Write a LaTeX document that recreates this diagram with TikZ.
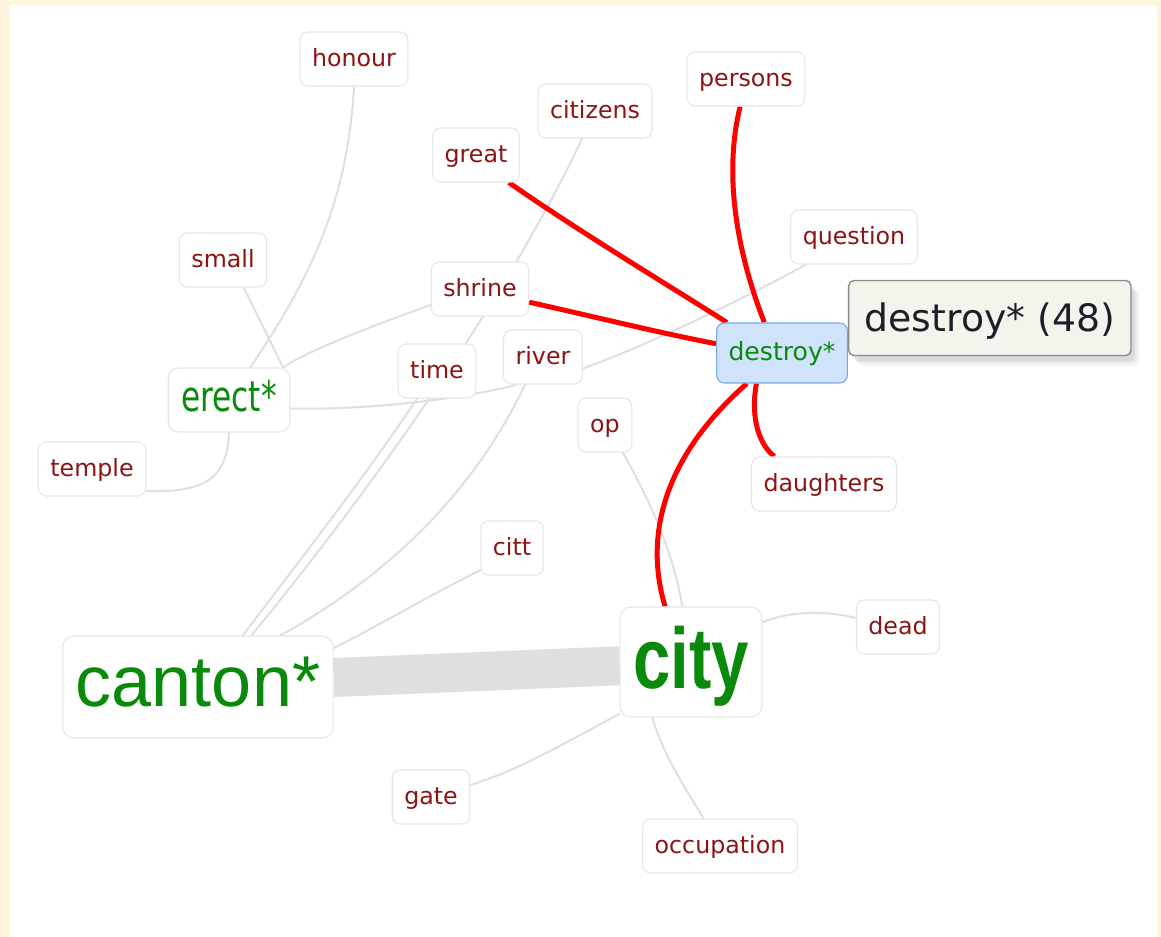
\documentclass[tikz,border=0pt]{standalone}
\usepackage{fontspec}
\setmainfont{DejaVu Sans}
\newfontfamily\hubfont{Liberation Sans}
\newfontfamily\cityfont[FakeStretch=0.78]{Liberation Sans}
\newfontfamily\verbfont[FakeStretch=0.74]{DejaVu Sans}
\usetikzlibrary{positioning, calc}
\definecolor{wordred}{HTML}{8B1414}
\definecolor{wordgreen}{HTML}{0A8A0A}
\definecolor{cream}{HTML}{FFF4DC}
\definecolor{boxline}{HTML}{E6E6E6}
\definecolor{linkgrey}{HTML}{DFDFDF}
\definecolor{hotred}{HTML}{FF0000}
\definecolor{focusfill}{HTML}{CFE3FA}
\definecolor{focusline}{HTML}{78A8EA}
\definecolor{tipfill}{HTML}{F4F3EC}
\definecolor{tipline}{HTML}{8A8A8A}
\definecolor{tiptext}{HTML}{1E1E2A}
\pgfdeclarelayer{paper}
\pgfdeclarelayer{links}
\pgfsetlayers{paper,links,main}

\begin{document}
\begin{tikzpicture}[
    x=0.02cm, y=-0.02cm,
    every node/.style={font={\fontsize{13.5}{16}\selectfont}},
    word/.style={
      draw=boxline, fill=white, rounded corners=4.5pt, line width=0.6pt,
      text=wordred, inner xsep=0.24cm, minimum height=1.08cm,
      text height=10pt, text depth=1.4pt
    },
    hub/.style={word, text=wordgreen, inner xsep=0.26cm, rounded corners=6pt},
    focus/.style={
      word, draw=focusline, fill=focusfill, text=wordgreen,
      minimum height=1.2cm, font={\fontsize{14.3}{17}\selectfont},
      text height=10.5pt, text depth=2pt
    },
    tip/.style={
      draw=tipline, fill=tipfill, rounded corners=3pt, line width=0.8pt,
      text=tiptext, inner xsep=0.32cm, minimum height=1.5cm,
      text height=18pt, text depth=2.2pt,
      font={\fontsize{21.5}{25}\selectfont},
      preaction={fill=black, opacity=0.04, transform canvas={xshift=5pt, yshift=-6pt}},
      preaction={fill=black, opacity=0.05, transform canvas={xshift=3.5pt, yshift=-4.5pt}},
      preaction={fill=black, opacity=0.06, transform canvas={xshift=2pt, yshift=-3pt}}
    },
    link/.style={linkgrey, line width=0.04cm},
    band/.style={linkgrey, line width=0.78cm},
    hot/.style={hotred, line width=0.1cm}
]
  \useasboundingbox (0,0) rectangle (1161,937);
  \begin{pgfonlayer}{paper}
    \fill[cream] (0,0) rectangle (1161,937);
    \fill[white] (10,5) rectangle (1157,937);
  \end{pgfonlayer}

  \node[word] (honour) at (354,59) {honour};
  \node[word] (persons) at (746,79) {persons};
  \node[word] (citizens) at (595,111) {citizens};
  \node[word] (great) at (476,155) {great};
  \node[word] (question) at (854,237) {question};
  \node[word] (small) at (223,260) {small};
  \node[word] (shrine) at (480,289) {shrine};
  \node[focus] (destroy) at (782,353) {destroy*};
  \node[tip, right=0pt of destroy, yshift=0.7cm] (tooltip) {destroy* (48)};
  \node[word] (time) at (437,371) {time};
  \node[word] (river) at (543,357) {river};
  \node[hub, font={\verbfont\fontsize{24}{28}\selectfont}, minimum height=1.28cm,
        text height=17pt, text depth=3.8pt] (erect) at (229,400) {erect*};
  \node[word] (op) at (605,425) {op};
  \node[word] (temple) at (92,469) {temple};
  \node[word] (daughters) at (824,484) {daughters};
  \node[word] (citt) at (512,548) {citt};
  \node[hub, font={\hubfont\fontsize{41}{46}\selectfont}, minimum height=2.04cm,
        text height=30pt, text depth=7.8pt] (canton) at (198,687) {canton*};
  \node[hub, font={\cityfont\bfseries\fontsize{49}{56}\selectfont}, minimum height=2.2cm,
        text height=36pt, text depth=6pt] (city) at (691,662) {city};
  \node[word] (dead) at (898,627) {dead};
  \node[word] (gate) at (431,797) {gate};
  \node[word] (occupation) at (720,846) {occupation};

  \begin{pgfonlayer}{links}
    \draw[link] (honour.south) .. controls (348,200) and (310,280) .. (erect.57);
    \draw[link] (small.307) -- (erect.31);
    \draw[link] (shrine.198) .. controls (360,330) and (300,355) .. (erect.31);
    \draw[link] (temple.338) .. controls (215,494) and (227,470) .. (erect.south);
    \draw[link] (erect.352) .. controls (380,410) and (470,397) .. (river.227);
    \draw[link] (river.344) .. controls (650,345) and (760,290) .. (question.210);
    \draw[link] (citizens.245) .. controls (530,250) and (420,430) .. (canton.44);
    \draw[link] (time.234) .. controls (370,470) and (300,560) .. (canton.49);
    \draw[link] (river.237) .. controls (470,500) and (380,580) .. (canton.32);
    \draw[link] (citt.215) .. controls (430,595) and (380,625) .. (canton.16);
    \draw[link] (op.303) .. controls (655,510) and (675,560) .. (city.99);
    \draw[link] (city.29) .. controls (790,610) and (830,611) .. (dead.168);
    \draw[link] (city.216) .. controls (570,740) and (520,770) .. (gate.17);
    \draw[link] (city.235) .. controls (665,760) and (690,795) .. (occupation.121);
    \draw[band] (canton.4) -- (city.183);

    \draw[hot] (great.320) .. controls (580,232) and (660,280) .. (destroy.151);
    \draw[hot] (shrine.345) .. controls (600,318) and (660,333) .. (destroy.172);
    \draw[hot] (persons.258) .. controls (722,180) and (740,260) .. (destroy.120);
    \draw[hot] (destroy.230) .. controls (750,420) and (760,445) .. (daughters.151);
    \draw[hot] (destroy.221) .. controls (660,460) and (645,540) .. (city.115);
  \end{pgfonlayer}
\end{tikzpicture}
\end{document}
